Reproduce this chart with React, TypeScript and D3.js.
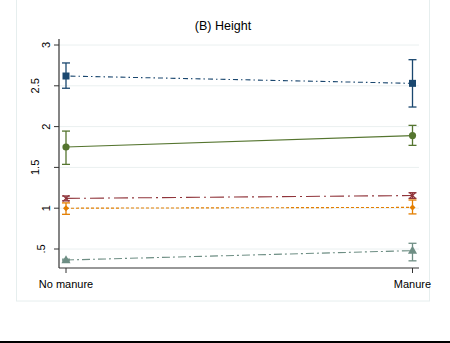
import React from "react";
import * as d3 from "d3";

// Height by manure treatment, one line per series
const categories = ["No manure", "Manure"];
const seriesNames = ["S1", "S2", "S3", "S4", "S5"];
const means = [
  [2.62, 2.53],
  [1.75, 1.89],
  [1.12, 1.155],
  [1.0, 1.01],
  [0.365, 0.48],
];
const lowers = [
  [2.47, 2.24],
  [1.537, 1.77],
  [1.09, 1.12],
  [0.925, 0.93],
  [0.355, 0.355],
];
const uppers = [
  [2.78, 2.82],
  [1.945, 2.015],
  [1.15, 1.19],
  [1.065, 1.1],
  [0.375, 0.57],
];
const yTicks = [0.5, 1, 1.5, 2, 2.5, 3];
const yTickLabels = [".5", "1", "1.5", "2", "2.5", "3"];

const colors = ["#1a476f", "#55752f", "#90353b", "#e37e00", "#6e8e84"];
const dashes = ["1.5,3,5,3", "", "14,4,2,4", "3,2", "8,3,2,3"];
const markers = ["square", "circle", "cross", "diamond", "triangle"];

export default function App() {
  const W = 450;
  const H = 343;
  const left = 59;
  const right = 419;
  const top = 44;
  const bottom = 268;
  const x = d3.scalePoint<string>().domain(categories).range([66, 412.5]);
  const y = d3.scaleLinear().domain([0.5, 3]).range([249, 45]);
  const font = "Liberation Sans, Arial, sans-serif";

  const marker = (kind: string, cx: number, cy: number, c: string) => {
    if (kind === "square")
      return <rect x={cx - 3.5} y={cy - 3.5} width={7} height={7} fill={c} />;
    if (kind === "circle") return <circle cx={cx} cy={cy} r={3.6} fill={c} />;
    if (kind === "cross")
      return (
        <path
          d={`M${cx - 3},${cy - 3}L${cx + 3},${cy + 3}M${cx - 3},${cy + 3}L${cx + 3},${cy - 3}`}
          stroke={c}
          strokeWidth={1.3}
        />
      );
    if (kind === "triangle") {
      const tri = d3.symbol(d3.symbolTriangle, 36)();
      return <path d={tri || ""} transform={`translate(${cx},${cy + 0.5})`} fill={c} />;
    }
    return <path d={`M${cx},${cy - 3}L${cx + 3},${cy}L${cx},${cy + 3}L${cx - 3},${cy}Z`} fill={c} />;
  };

  const line = d3
    .line<number>()
    .x((_, i) => x(categories[i]) as number)
    .y((v) => y(v));

  return (
    <svg width={W} height={H} style={{ display: "block", position: "absolute", left: 0, top: 0 }}>
      <rect x={0} y={0} width={W} height={H} fill="#fff" />
      <rect x={16.5} y={-2} width={413} height={303} fill="#fff" stroke="#e6eeee" strokeWidth={1} />
      <text x={223} y={30} textAnchor="middle" fontFamily={font} fontSize={12.5} fill="#000">
        (B) Height
      </text>
      {/* grid */}
      {yTicks.map((t) => (
        <line key={t} x1={left} x2={right} y1={y(t)} y2={y(t)} stroke="#eaf0f0" strokeWidth={1} />
      ))}
      {/* axes */}
      <line x1={left} x2={left} y1={top - 5} y2={bottom} stroke="#333" strokeWidth={1.2} />
      <line x1={left} x2={right} y1={bottom} y2={bottom} stroke="#333" strokeWidth={1.2} />
      {yTicks.map((t, i) => {
        const lab = yTickLabels[i];
        const bx = 50 - (lab.length - 1) * 5.5;
        return (
          <g key={t}>
            <line x1={left - 5} x2={left} y1={y(t)} y2={y(t)} stroke="#333" strokeWidth={1} />
            <text
              transform={`translate(${bx},${y(t)}) rotate(-90)`}
              textAnchor="middle"
              fontFamily={font}
              fontSize={11}
              fill="#000"
            >
              {lab}
            </text>
          </g>
        );
      })}
      {categories.map((c) => (
        <g key={c}>
          <line x1={x(c)} x2={x(c)} y1={bottom} y2={bottom + 5} stroke="#333" strokeWidth={1} />
          <text x={x(c)} y={288} textAnchor="middle" fontFamily={font} fontSize={11} fill="#000">
            {c}
          </text>
        </g>
      ))}
      {/* series */}
      {seriesNames.map((s, si) => (
        <g key={s}>
          <path
            d={line(means[si]) || ""}
            fill="none"
            stroke={colors[si]}
            strokeWidth={1.1}
            strokeDasharray={dashes[si]}
          />
          {categories.map((c, ci) => {
            const cx = x(c) as number;
            return (
              <g key={c}>
                <line x1={cx} x2={cx} y1={y(lowers[si][ci])} y2={y(uppers[si][ci])} stroke={colors[si]} strokeWidth={1.3} />
                <line x1={cx - 4} x2={cx + 4} y1={y(lowers[si][ci])} y2={y(lowers[si][ci])} stroke={colors[si]} strokeWidth={1.3} />
                <line x1={cx - 4} x2={cx + 4} y1={y(uppers[si][ci])} y2={y(uppers[si][ci])} stroke={colors[si]} strokeWidth={1.3} />
                {marker(markers[si], cx, y(means[si][ci]), colors[si])}
              </g>
            );
          })}
        </g>
      ))}
      <rect x={0} y={341} width={W} height={2} fill="#000" />
    </svg>
  );
}
